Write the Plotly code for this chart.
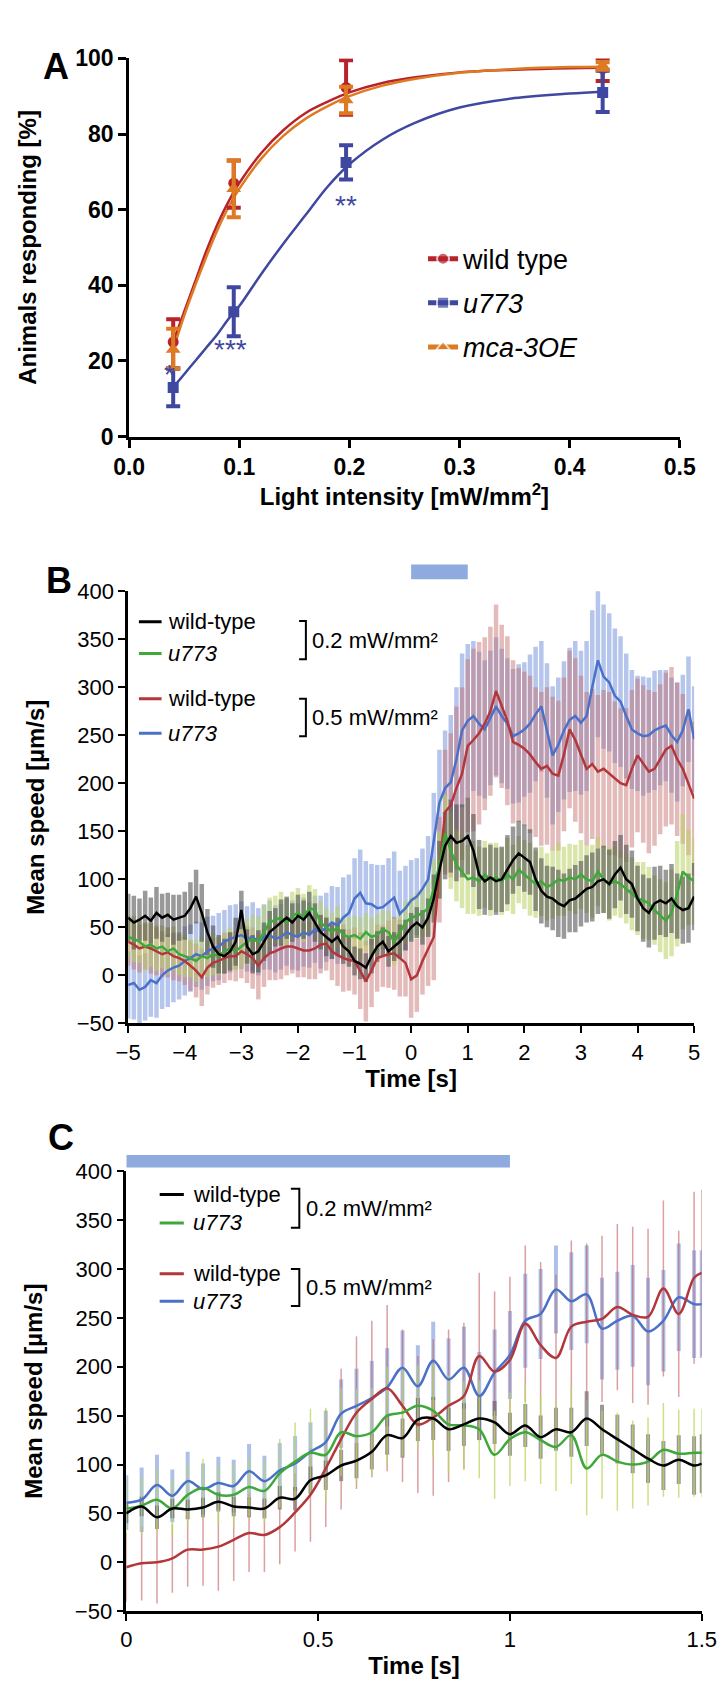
import plotly.graph_objects as go

# ---------------- Panel A: dose response ----------------
light_x = [0.04, 0.095, 0.197, 0.43]
wt_resp = [25, 67, 92.3, 97.3]
wt_up = [6, 6, 7.2, 2.7]
wt_dn = [7, 6.5, 7.2, 3.3]
u773_resp = [13, 33, 72.5, 91]
u773_up = [5, 6.5, 4.5, 5.7]
u773_dn = [5, 6.5, 4.5, 5.2]
mca_resp = [23, 65.5, 89, 98]
mca_up = [5.5, 7.5, 3.5, 1]
mca_dn = [5, 7.5, 3.5, 1]

fit_x = [0.04, 0.05, 0.06, 0.07, 0.08, 0.09, 0.10, 0.12, 0.14, 0.16, 0.18, 0.20,
         0.23, 0.26, 0.30, 0.35, 0.40, 0.43]
wt_fit = [25, 33, 41, 49, 56, 62, 67, 75, 81, 85.5, 88.5, 91, 93.5, 95, 96.3, 97, 97.4, 97.5]
mca_fit = [23, 32, 40, 47.5, 54.5, 60.5, 65.5, 73.5, 79.5, 84, 87.3, 90, 92.8, 94.6, 96.2,
           97.2, 97.7, 97.8]
u773_fit = [13, 16.5, 20, 23.5, 27, 31, 34.5, 43, 51, 58.5, 66, 72, 78.5, 83, 87, 89.5,
            90.7, 91.2]

# ---------------- Panel B: -5 s .. 5 s ----------------
time_b = [round(-5 + 0.1 * i, 1) for i in range(101)]
wt02_b = [60, 55, 58, 62, 57, 65, 60, 63, 58, 60,
          62, 70, 82, 65, 45, 30, 22, 20, 25, 35,
          68, 30, 22, 25, 35, 45, 50, 55, 60, 55,
          62, 58, 65, 55, 45, 40, 35, 40, 30, 25,
          15, 12, 8, 20, 30, 35, 25, 30, 35, 42,
          50, 55, 50, 60, 80, 110, 135, 145, 138, 140,
          145, 130, 105, 98, 102, 98, 100, 110, 120, 127,
          122, 118, 100, 88, 82, 80, 75, 72, 78, 80,
          85, 90, 92, 98, 100, 95, 105, 112, 100, 95,
          80, 70, 65, 75, 78, 75, 80, 72, 68, 70, 82]
wt02_b_err = [25, 28, 22, 26, 24, 27, 25, 23, 26, 24,
              25, 27, 28, 30, 24, 22, 20, 18, 20, 25,
              20, 18, 20, 22, 20, 22, 20, 24, 22, 20,
              22, 20, 22, 20, 18, 20, 18, 20, 18, 16,
              15, 16, 15, 18, 16, 15, 16, 15, 18, 16,
              15, 16, 18, 20, 25, 30, 35, 38, 40, 38,
              40, 38, 36, 35, 34, 35, 34, 36, 35, 34,
              35, 34, 33, 34, 32, 33, 35, 34, 33, 35,
              34, 35, 36, 34, 35, 36, 35, 34, 36, 35,
              34, 35, 36, 38, 36, 35, 36, 34, 35, 36, 35]
u02_b = [40, 38, 35, 30, 32, 28, 30, 25, 28, 22,
         20, 18, 15, 20, 18, 22, 20, 25, 28, 25,
         30, 35, 38, 35, 45, 55, 58, 60, 55, 62,
         65, 60, 70, 68, 55, 50, 45, 50, 42, 40,
         42, 38, 45, 40, 42, 48, 45, 35, 45, 55,
         60, 62, 65, 70, 90, 115, 148, 130, 115, 108,
         100, 102, 98, 105, 100, 102, 98, 105, 100, 110,
         105, 100, 95, 98, 92, 95, 100, 98, 102, 100,
         105, 100, 98, 108, 100, 95, 98, 95, 90, 85,
         80, 78, 75, 68, 62, 57, 65, 85, 108, 102, 98]
u02_b_err = [22, 24, 22, 25, 23, 24, 22, 24, 23, 22,
             22, 20, 22, 21, 20, 22, 20, 21, 22, 20,
             22, 24, 25, 26, 28, 26, 25, 27, 26, 25,
             26, 25, 24, 22, 22, 20, 20, 22, 20, 20,
             20, 22, 20, 20, 22, 20, 22, 24, 22, 22,
             22, 24, 25, 28, 30, 35, 40, 40, 38, 38,
             36, 38, 36, 35, 38, 36, 35, 38, 36, 35,
             36, 38, 35, 36, 35, 36, 38, 36, 35, 36,
             36, 35, 38, 36, 35, 38, 36, 35, 36, 38,
             38, 40, 38, 36, 38, 40, 45, 55, 60, 50, 45]
wt05_b = [35, 32, 28, 30, 28, 25, 22, 24, 20, 18,
          15, 10, 5, -2, 8, 13, 15, 18, 20, 20,
          25, 22, 18, 10, 18, 23, 25, 28, 30, 30,
          28, 26, 26, 28, 32, 33, 25, 21, 18, 16,
          15, 5, -6, 5, 18, 20, 22, 23, 18, 13,
          -4, 0, 15, 27, 40, 110, 170, 177, 195, 210,
          239, 245, 252, 262, 275, 296, 280, 265, 243, 240,
          236, 230, 222, 215, 218, 210, 208, 230, 256, 245,
          230, 215, 220, 212, 215, 210, 205, 200, 198, 215,
          229, 220, 212, 215, 225, 235, 239, 225, 215, 200, 184]
wt05_b_err = [25, 26, 25, 24, 26, 25, 24, 26, 25, 24,
              25, 26, 28, 30, 28, 26, 25, 26, 25, 26,
              28, 30, 32, 35, 30, 28, 30, 32, 30, 28,
              30, 28, 30, 32, 30, 28, 30, 32, 35, 32,
              35, 40, 42, 38, 35, 32, 35, 38, 40, 35,
              40, 38, 35, 38, 45, 55, 65, 75, 85, 90,
              90, 95, 95, 90, 88, 90, 85, 88, 85, 80,
              80, 82, 78, 80, 82, 80, 78, 80, 82, 85,
              82, 80, 78, 80, 82, 85, 80, 78, 80, 82,
              80, 82, 85, 80, 78, 80, 82, 80, 78, 75, 80]
u05_b = [-10, -8, -15, -12, -5, -8, 0, 5, 8, 10,
         15, 18, 22, 20, 25, 28, 30, 35, 38, 40,
         42, 38, 40, 35, 40, 42, 38, 40, 45, 42,
         40, 45, 42, 48, 45, 50, 55, 52, 60, 65,
         80, 86, 75, 74, 70, 71, 76, 81, 64, 70,
         78, 82, 90, 100, 140, 180, 195, 201, 225, 255,
         265, 270, 262, 256, 268, 280, 270, 262, 249, 252,
         256, 262, 272, 280, 255, 229, 240, 255, 266, 270,
         263, 270, 300, 328, 311, 305, 291, 285, 270, 256,
         252, 249, 250, 255, 258, 260, 250, 243, 255, 277, 246]
u05_b_err = [35, 38, 36, 35, 38, 36, 35, 38, 36, 35,
             36, 35, 34, 35, 36, 34, 35, 33, 35, 34,
             35, 34, 36, 35, 34, 36, 35, 34, 35, 36,
             35, 36, 34, 35, 38, 36, 38, 40, 42, 40,
             42, 45, 44, 42, 45, 44, 46, 48, 45, 44,
             42, 40, 42, 45, 50, 55, 60, 70, 75, 80,
             80, 78, 75, 72, 70, 72, 70, 68, 70, 72,
             70, 72, 70, 68, 70, 72, 70, 72, 75, 78,
             75, 78, 80, 80, 75, 72, 70, 68, 65, 62,
             60, 62, 60, 62, 60, 58, 60, 62, 58, 55, 55]

# ---------------- Panel C: 0 .. 1.5 s ----------------
time_c = [0.00, 0.04, 0.08, 0.12, 0.16, 0.20, 0.24, 0.28, 0.32, 0.36, 0.40, 0.44, 0.48,
          0.52, 0.56, 0.60, 0.64, 0.68, 0.72, 0.76, 0.80, 0.84, 0.88, 0.92, 0.96, 1.00,
          1.04, 1.08, 1.12, 1.16, 1.20, 1.24, 1.28, 1.32, 1.36, 1.40, 1.44, 1.48, 1.50]
wt02_c = [50, 57, 46, 55, 54, 56, 62, 57, 56, 55, 66, 65, 84, 89, 99, 104, 113, 130, 127,
          146, 147, 136, 141, 147, 143, 131, 140, 128, 136, 133, 147, 136, 126, 116, 106,
          99, 105, 99, 101]
wt02_c_err = [10, 10, 12, 10, 10, 10, 10, 10, 10, 10, 12, 12, 14, 15, 16, 18, 18, 20, 20,
              22, 22, 22, 22, 22, 22, 22, 22, 22, 22, 25, 28, 25, 25, 25, 25, 25, 25, 30, 30]
u02_c = [55, 58, 64, 55, 69, 76, 69, 69, 77, 73, 91, 103, 112, 110, 133, 129, 133, 150,
         153, 160, 155, 141, 140, 136, 110, 126, 133, 125, 118, 130, 96, 110, 103, 100,
         103, 115, 111, 112, 112]
u02_c_err = [30, 30, 32, 30, 32, 30, 30, 32, 30, 32, 35, 40, 45, 48, 45, 48, 45, 50, 45,
             42, 48, 50, 45, 50, 45, 48, 50, 45, 45, 50, 48, 45, 50, 45, 45, 48, 45, 45, 45]
wt05_c = [-5, -1, 0, 4, 13, 13, 16, 23, 30, 28, 36, 51, 69, 96, 126, 153, 167, 178, 160,
          141, 148, 160, 170, 211, 195, 207, 244, 222, 209, 241, 246, 249, 261, 253, 251,
          280, 254, 291, 296]
wt05_c_err = [35, 38, 42, 35, 38, 37, 45, 42, 40, 38, 38, 40, 48, 60, 72, 78, 80, 85, 78,
              70, 80, 78, 75, 85, 82, 85, 80, 85, 85, 88, 80, 85, 85, 90, 90, 90, 85, 88, 85]
u05_c = [61, 64, 79, 68, 83, 75, 81, 78, 93, 83, 94, 101, 113, 123, 152, 160, 168, 179,
         199, 180, 206, 187, 199, 170, 194, 212, 247, 254, 279, 267, 274, 239, 247, 252,
         236, 247, 271, 264, 264]
u05_c_err = [28, 33, 31, 27, 30, 26, 27, 27, 28, 26, 28, 28, 30, 32, 35, 38, 38, 40, 38,
             42, 40, 42, 42, 45, 44, 45, 48, 46, 45, 50, 50, 52, 50, 52, 55, 52, 55, 55, 55]

RED_A, BLUE_A, ORANGE_A = "#b8232b", "#3f48a0", "#de7b22"
BLACK, GREEN, RED, BLUE = "#000000", "#3ea83a", "#b3363a", "#4a70c8"
STIM = "#8eaadf"
NARROW = "Liberation Sans Narrow, Arial Narrow, Liberation Sans, Arial, sans-serif"
SANS = "Liberation Sans, Arial, sans-serif"

fig = go.Figure()

### Panel A
groups_a = [
    ("wild type", RED_A, "circle", 11, wt_fit, wt_resp, wt_up, wt_dn),
    ("<i>u773</i>", BLUE_A, "square", 11, u773_fit, u773_resp, u773_up, u773_dn),
    ("<i>mca-3OE</i>", ORANGE_A, "triangle-up", 13, mca_fit, mca_resp, mca_up, mca_dn),
]
for name, col, sym, sz, fit, _, _, _ in groups_a:
    fig.add_trace(go.Scatter(
        x=fit_x, y=fit, mode="lines+markers", name=name, legendgroup=name,
        line=dict(color=col, width=2.5), line_shape="spline",
        marker=dict(symbol=sym, color=col, size=[0.01] * len(fit_x)),
        xaxis="x", yaxis="y"))
for name, col, sym, sz, _, resp, up, dn in groups_a:
    fig.add_trace(go.Scatter(
        x=light_x, y=resp, mode="markers", showlegend=False, legendgroup=name,
        marker=dict(symbol=sym, color=col, size=sz),
        error_y=dict(type="data", array=up, arrayminus=dn, color=col, thickness=4, width=7),
        xaxis="x", yaxis="y"))

### Panel B: error bands (vertical bars) then mean traces
bands_b = [
    (u05_b, u05_b_err, "rgba(120,150,220,0.55)"),
    (wt05_b, wt05_b_err, "rgba(195,105,105,0.45)"),
    (u02_b, u02_b_err, "rgba(185,210,100,0.55)"),
    (wt02_b, wt02_b_err, "rgba(70,70,70,0.55)"),
]
for y, err, col in bands_b:
    fig.add_trace(go.Scatter(
        x=time_b, y=y, mode="markers", showlegend=False, hoverinfo="skip",
        marker=dict(size=1, color="rgba(0,0,0,0)"),
        error_y=dict(type="data", array=err, color=col, thickness=4.5, width=0),
        xaxis="x2", yaxis="y2"))
for y, col in [(u05_b, BLUE), (wt05_b, RED), (u02_b, GREEN), (wt02_b, BLACK)]:
    fig.add_trace(go.Scatter(
        x=time_b, y=y, mode="lines", showlegend=False,
        line=dict(color=col, width=2.5), xaxis="x2", yaxis="y2"))

### Panel C
bands_c = [
    (u05_c, u05_c_err, "rgba(120,150,220,0.6)", 4),
    (wt02_c, wt02_c_err, "rgba(70,70,70,0.55)", 4),
    (wt05_c, wt05_c_err, "rgba(195,95,95,0.6)", 1.5),
    (u02_c, u02_c_err, "rgba(185,215,95,0.75)", 1.5),
]
for y, err, col, th in bands_c:
    fig.add_trace(go.Scatter(
        x=time_c, y=y, mode="markers", showlegend=False, hoverinfo="skip",
        marker=dict(size=1, color="rgba(0,0,0,0)"),
        error_y=dict(type="data", array=err, color=col, thickness=th, width=0),
        xaxis="x3", yaxis="y3"))
for y, col in [(u05_c, BLUE), (wt05_c, RED), (u02_c, GREEN), (wt02_c, BLACK)]:
    fig.add_trace(go.Scatter(
        x=time_c, y=y, mode="lines", showlegend=False, line_shape="spline",
        line=dict(color=col, width=2.5), xaxis="x3", yaxis="y3"))

# ---------------- legends / decorations for B and C ----------------
shapes = []
annotations = []


def bracket_legend(xr, yr, key_x, text_x, br_x, br_text_x, rows, brackets):
    for yv, col, label in rows:
        shapes.append(dict(type="line", xref=xr, yref=yr, x0=key_x[0], x1=key_x[1],
                           y0=yv, y1=yv, line=dict(color=col, width=3)))
        annotations.append(dict(xref=xr, yref=yr, x=text_x, y=yv, text=label,
                                showarrow=False, xanchor="left", yanchor="middle",
                                font=dict(family=SANS, size=22, color="black")))
    for y0, y1, label in brackets:
        shapes.append(dict(type="path", xref=xr, yref=yr,
                           path=f"M {br_x[0]},{y0} L {br_x[1]},{y0} L {br_x[1]},{y1} L {br_x[0]},{y1}",
                           line=dict(color="black", width=2)))
        annotations.append(dict(xref=xr, yref=yr, x=br_text_x, y=(y0 + y1) / 2, text=label,
                                showarrow=False, xanchor="left", yanchor="middle",
                                font=dict(family=SANS, size=22, color="black")))


bracket_legend("x2", "y2", (-4.81, -4.41), -4.33, (-1.98, -1.86), -1.78,
               [(368, BLACK, "wild-type"), (335, GREEN, "<i>u773</i>"),
                (288, RED, "wild-type"), (252, BLUE, "<i>u773</i>")],
               [(369, 329, "0.2 mW/mm²"), (288, 249, "0.5 mW/mm²")])
bracket_legend("x3", "y3", (0.087, 0.150), 0.168, (0.429, 0.451), 0.462,
               [(376, BLACK, "wild-type"), (347, GREEN, "<i>u773</i>"),
                (295, RED, "wild-type"), (267, BLUE, "<i>u773</i>")],
               [(382, 342, "0.2 mW/mm²"), (300, 262, "0.5 mW/mm²")])

# light stimulus bars
shapes.append(dict(type="rect", xref="x2", yref="paper", x0=0, x1=1, y0=0.6655, y1=0.6743,
                   fillcolor=STIM, line=dict(width=0)))
shapes.append(dict(type="rect", xref="x3", yref="paper", x0=0, x1=1, y0=0.3130, y1=0.3205,
                   fillcolor=STIM, line=dict(width=0)))

# significance stars in A
for xs, ys, txt in [(0.197, 61, "**"), (0.092, 23, "***"), (0.037, 16.5, "*")]:
    annotations.append(dict(xref="x", yref="y", x=xs, y=ys, text=txt, showarrow=False,
                            font=dict(family=SANS, size=28, color=BLUE_A)))

# panel letters
for xp, yp, letter in [(0.024, 0.9864, "A"), (0.029, 0.6649, "B"), (0.032, 0.3174, "C")]:
    annotations.append(dict(xref="paper", yref="paper", x=xp, y=yp, text=f"<b>{letter}</b>",
                            showarrow=False, font=dict(family=SANS, size=36, color="black")))

axis_common = dict(showline=True, linecolor="black", ticks="outside", tickcolor="black",
                   showgrid=False, zeroline=False)
title_font = dict(family=SANS, size=24, color="black", weight="bold")
tick_a = dict(family=NARROW, size=23, color="black", weight="bold")
tick_bc = dict(family=SANS, size=22, color="black")

fig.update_layout(
    width=726, height=1695, margin=dict(l=0, r=0, t=0, b=0),
    paper_bgcolor="white", plot_bgcolor="white",
    shapes=shapes, annotations=annotations,
    legend=dict(x=0.575, y=0.872, xanchor="left", yanchor="top", traceorder="grouped",
                tracegroupgap=6, itemsizing="constant", bgcolor="rgba(0,0,0,0)",
                font=dict(family=NARROW, size=27, color="black")),
    xaxis=dict(domain=[0.1515, 0.9449], range=[0, 0.5], dtick=0.1, tickformat=".1f",
               linewidth=3, tickwidth=3, ticklen=8, tickfont=tick_a, anchor="y",
               title=dict(text="Light intensity [mW/mm<sup>2</sup>]", font=title_font,
                          standoff=8), **axis_common),
    yaxis=dict(domain=[0.751, 0.9776], range=[0, 100], dtick=20,
               linewidth=3, tickwidth=3, ticklen=8, tickfont=tick_a, anchor="x",
               title=dict(text="Animals responding [%]", font=title_font, standoff=32),
               **axis_common),
    xaxis2=dict(domain=[0.1501, 0.9656], range=[-5, 5], dtick=1,
                linewidth=2.5, tickwidth=2, ticklen=7, tickfont=tick_bc, anchor="y2",
                title=dict(text="Time [s]", font=title_font, standoff=6), **axis_common),
    yaxis2=dict(domain=[0.3994, 0.6584], range=[-50, 400], dtick=50,
                linewidth=2.5, tickwidth=2, ticklen=7, tickfont=tick_bc, anchor="x2",
                title=dict(text="Mean speed [µm/s]", font=title_font, standoff=26),
                **axis_common),
    xaxis3=dict(domain=[0.1474, 0.9766], range=[0, 1.5], dtick=0.5,
                linewidth=2.5, tickwidth=2, ticklen=7, tickfont=tick_bc, anchor="y3",
                title=dict(text="Time [s]", font=title_font, standoff=6), **axis_common),
    yaxis3=dict(domain=[0.0472, 0.3109], range=[-50, 400], dtick=50,
                linewidth=2.5, tickwidth=2, ticklen=7, tickfont=tick_bc, anchor="x3",
                title=dict(text="Mean speed [µm/s]", font=title_font, standoff=26),
                **axis_common),
)

fig.write_html("out.html")
